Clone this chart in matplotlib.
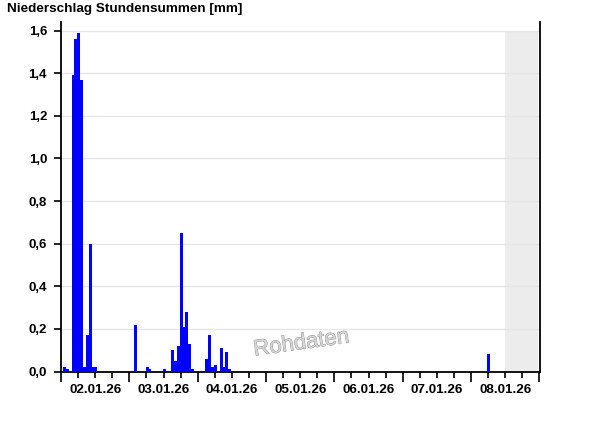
import numpy as np
import pandas as pd
import matplotlib
matplotlib.use('Agg')
import matplotlib.pyplot as plt
import matplotlib.patheffects as pe
from matplotlib.ticker import MultipleLocator

# Hourly precipitation sums, hours counted from 02.01.26 00:00
start = pd.Timestamp('2026-01-02')
hours = [1, 2, 4, 5, 6, 7, 8, 9, 10, 11, 12,
         26, 30, 31, 36, 39, 40, 41, 42, 43, 44, 45, 46,
         51, 52, 53, 54, 56, 57, 58, 59,
         150]
values = [0.02, 0.01, 1.39, 1.56, 1.59, 1.37, 0.02, 0.17, 0.60, 0.02, 0.02,
          0.22, 0.02, 0.01, 0.01, 0.10, 0.05, 0.12, 0.65, 0.21, 0.28, 0.13, 0.01,
          0.06, 0.17, 0.02, 0.03, 0.11, 0.02, 0.09, 0.01,
          0.08]
n_days = 7
now_hour = 156          # no data after this (grey area)
day_labels = [(start + pd.Timedelta(days=d)).strftime('%d.%m.%y') for d in range(n_days)]
yticks = np.arange(0, 1.61, 0.2)

plt.rcParams['font.family'] = ['Liberation Sans', 'DejaVu Sans']

fig = plt.figure(figsize=(6, 4.26), dpi=100)
ax = fig.add_axes([61/600, 1 - 371.5/426, (540 - 61)/600, (371.5 - 22)/426])

x_end = n_days * 24 + 0.2
ax.set_xlim(0, x_end)
ax.set_ylim(0, 1.64)

ax.fill_between([now_hour, x_end - 0.6], 0, 1.6, color='#ececec', lw=0, zorder=0)
for y in yticks[1:]:
    ax.axhline(y, color='#e6e6e6', lw=1, zorder=1)

ax.bar(np.array(hours) - 0.3, values, width=1.05, align='edge',
       color='#0000ff', linewidth=0, zorder=3)

ax.spines['top'].set_visible(False)
for s in ['left', 'bottom', 'right']:
    ax.spines[s].set_linewidth(1.3)

ax.set_yticks(yticks)
ax.set_yticklabels([f'{v:.1f}'.replace('.', ',') for v in yticks],
                   fontsize=9.5, fontweight='bold')
ax.tick_params(axis='y', direction='out', length=5, width=1.2, pad=5)

ax.set_xticks(np.arange(0, n_days * 24 + 1, 24))
ax.set_xticklabels([])
ax.xaxis.set_minor_locator(MultipleLocator(6))
ax.tick_params(axis='x', which='major', direction='out', length=7, width=1.2)
ax.tick_params(axis='x', which='minor', direction='out', length=4, width=1.2)

for d, lab in enumerate(day_labels):
    ax.text(d * 24 + 12, -0.088, lab, ha='center', va='center',
            fontsize=9.7, fontweight='bold', clip_on=False)

fig.text(7/600, 1 - 9/426, 'Niederschlag Stundensummen [mm]', ha='left',
         va='center', fontsize=9.7, fontweight='bold')

# watermark
ax.text(0.502, 0.08, 'Rohdaten', transform=ax.transAxes, ha='center',
        va='center', fontsize=16, rotation=8, color='#d6d6d6', zorder=5,
        path_effects=[pe.withStroke(linewidth=0.6, foreground='#8a8a8a')])

fig.savefig('out.png', dpi=100)
